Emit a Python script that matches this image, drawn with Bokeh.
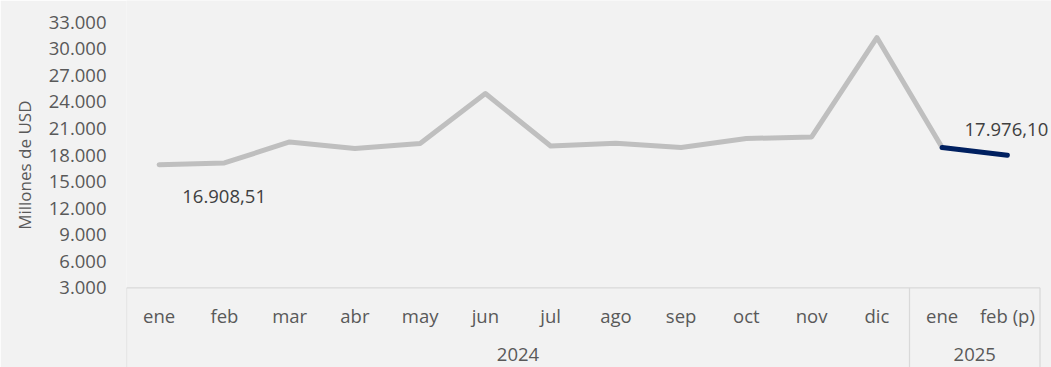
import numpy as np
from bokeh.plotting import figure
from bokeh.models import Range1d, FixedTicker, Title
from bokeh.core.properties import value
from bokeh.embed import file_html
from bokeh.resources import INLINE

# ---------------- data ----------------
years = ["2024"] * 12 + ["2025"] * 2
months = ["ene", "feb", "mar", "abr", "may", "jun", "jul", "ago", "sep", "oct", "nov", "dic", "ene", "feb (p)"]
values = [16908.51, 17100, 19475, 18730, 19290, 24940, 19020, 19330, 18840, 19860, 20040, 31270, 18840, 17976.10]
year_labels = ["2024", "2025"]
y_ticks = list(range(3000, 33001, 3000))
y_axis_title = "Millones de USD"


def fmt_es(v, decimals=0):
    s = f"{v:,.{decimals}f}"
    return s.replace(",", "X").replace(".", ",").replace("X", ".")


# ---------------- layout ----------------
W, H = 1051, 367
FRAME_L = 126
BOX_R = 1039.5
N = len(months)
band_px = (BOX_R - FRAME_L) / N
Y_TOP_PX, Y_BOT_PX = 21.7, 287.3          # pixel rows of the top and bottom ticks
upp = (y_ticks[-1] - y_ticks[0]) / (Y_BOT_PX - Y_TOP_PX)
y_start = y_ticks[0] - (H - Y_BOT_PX) * upp
y_end = y_ticks[-1] + Y_TOP_PX * upp
x_end = N + (W - BOX_R) / band_px

BG = "#f2f2f2"
AXIS_TXT = "#595959"
LBL_TXT = "#404040"
BOX = "#d9d9d9"
FONT = "Open Sans"

p = figure(width=W, height=H, x_range=Range1d(0, x_end), y_range=Range1d(y_start, y_end),
           output_backend="svg", toolbar_location=None, x_axis_location=None,
           min_border_left=FRAME_L, min_border_right=0, min_border_top=0, min_border_bottom=0,
           background_fill_color=BG, border_fill_color=BG, outline_line_color=None)
p.xgrid.visible = False
p.ygrid.visible = False

yaxis = p.yaxis[0]
yaxis.ticker = FixedTicker(ticks=y_ticks)
yaxis.major_label_overrides = {t: fmt_es(t) for t in y_ticks}
yaxis.axis_line_color = None
yaxis.major_tick_line_color = None
yaxis.minor_tick_line_color = None
yaxis.major_tick_out = 0
yaxis.major_label_standoff = 20
yaxis.major_label_text_font = FONT
yaxis.major_label_text_font_size = "18.5px"
yaxis.major_label_text_color = AXIS_TXT

xs = [i + 0.5 for i in range(N)]

# category box
n24 = years.count("2024")
y0 = y_ticks[0]
p.segment(x0=[0, 0, n24, N], y0=[y0, y0, y0, y0], x1=[N, 0, n24, N], y1=[y0, y_start, y_start, y_start],
          line_color=BOX, line_width=1.3)

# lines
p.line(xs[:13], values[:13], line_color="#bfbfbf", line_width=5, line_cap="round", line_join="round")
p.line(xs[12:], values[12:], line_color="#002060", line_width=5, line_cap="round", line_join="round")

# data labels
p.text(x=[xs[0]], y=[values[0]], text=[fmt_es(values[0], 2)], x_offset=65, y_offset=32,
       text_align="center", text_baseline="middle", text_font=value(FONT),
       text_font_size="18.5px", text_color=LBL_TXT)
p.text(x=[xs[-1]], y=[values[-1]], text=[fmt_es(values[-1], 2)], x_offset=-1, y_offset=-26,
       text_align="center", text_baseline="middle", text_font=value(FONT),
       text_font_size="18.5px", text_color=LBL_TXT)

# category labels
p.text(x=xs, y=[y0] * N, text=months, y_offset=28, text_align="center", text_baseline="middle",
       text_font=value(FONT), text_font_size="18.5px", text_color=AXIS_TXT)
year_x = [n24 / 2, n24 + (N - n24) / 2]
p.text(x=year_x, y=[y0] * 2, text=year_labels, y_offset=67, text_align="center", text_baseline="middle",
       text_font=value(FONT), text_font_size="18.5px", text_color=AXIS_TXT)

# axis title
p.add_layout(Title(text=y_axis_title, align="right", offset=100, standoff=20,
                   text_font=FONT, text_font_size="17px", text_font_style="normal",
                   text_color=AXIS_TXT), "left")

open("out.html", "w").write(file_html(p, INLINE))
